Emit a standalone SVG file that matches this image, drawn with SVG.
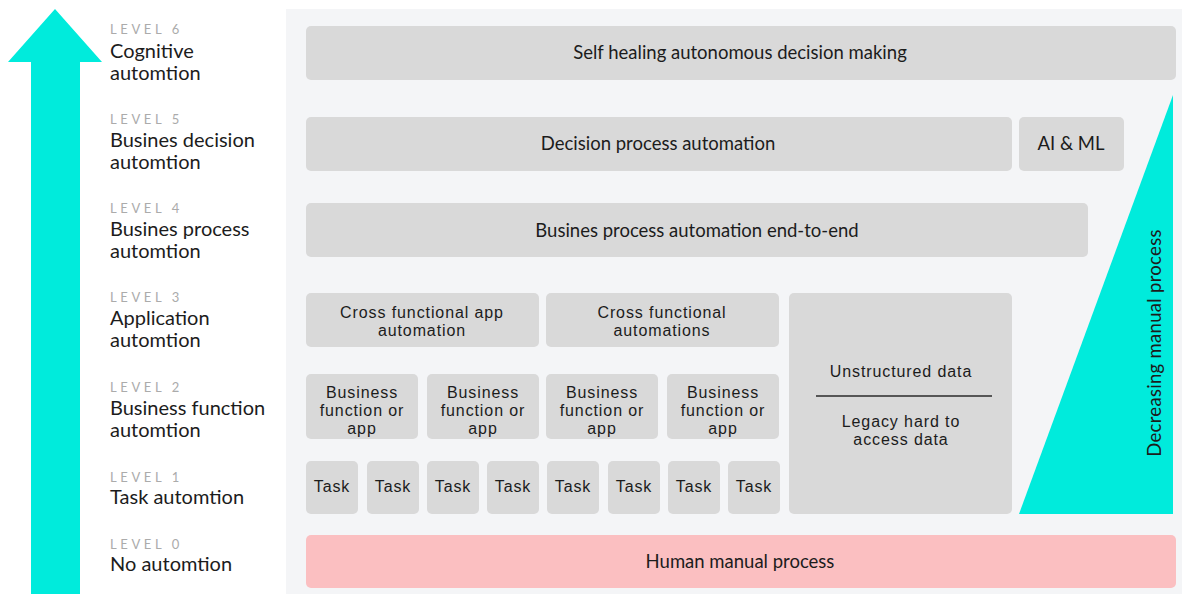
<svg xmlns="http://www.w3.org/2000/svg" width="1182" height="594" viewBox="0 0 1182 594">
  <style>
    .panel { fill: #f4f5f7; }
    .box { fill: #d9d9d9; }
    .pink { fill: #fbbfc1; }
    .teal { fill: #00ebdc; }
    text { font-family: "Lato", "Liberation Sans", sans-serif; fill: #1c1c1c; }
    .lbl { font-family: "Liberation Sans", "Lato", sans-serif; font-size: 16px; text-anchor: middle; letter-spacing: 0.9px; }
    .big { font-size: 18.5px; text-anchor: middle; }
    .lvl { font-size: 13px; fill: #ababab; letter-spacing: 3.6px; }
    .name { font-size: 20px; }
  </style>

  <rect width="1182" height="594" fill="#ffffff"/>

  <!-- Upward level arrow -->
  <g id="level-arrow">
    <polygon class="teal" points="55,9 102,62 80,62 80,594 31,594 31,62 8,62"/>
  </g>

  <!-- Level captions -->
  <g id="level-6"><text class="lvl" x="110" y="34">LEVEL 6</text><text class="name" x="110" y="58">Cognitive</text><text class="name" x="110" y="80">automtion</text></g>
  <g id="level-5"><text class="lvl" x="110" y="124">LEVEL 5</text><text class="name" x="110" y="147">Busines decision</text><text class="name" x="110" y="169">automtion</text></g>
  <g id="level-4"><text class="lvl" x="110" y="213">LEVEL 4</text><text class="name" x="110" y="236">Busines process</text><text class="name" x="110" y="258">automtion</text></g>
  <g id="level-3"><text class="lvl" x="110" y="302">LEVEL 3</text><text class="name" x="110" y="325">Application</text><text class="name" x="110" y="347">automtion</text></g>
  <g id="level-2"><text class="lvl" x="110" y="392">LEVEL 2</text><text class="name" x="110" y="415">Business function</text><text class="name" x="110" y="437">automtion</text></g>
  <g id="level-1"><text class="lvl" x="110" y="482">LEVEL 1</text><text class="name" x="110" y="504">Task automtion</text></g>
  <g id="level-0"><text class="lvl" x="110" y="549">LEVEL 0</text><text class="name" x="110" y="571">No automtion</text></g>

  <!-- Background panel -->
  <rect class="panel" x="286" y="9" width="896" height="585"/>

  <g id="self-healing"><rect class="box" x="306" y="26" width="870" height="54" rx="5"/><text class="big" x="740" y="59">Self healing autonomous decision making</text></g>
  <g id="decision-process"><rect class="box" x="306" y="117" width="706" height="54" rx="5"/><text class="big" x="658" y="150">Decision process automation</text></g>
  <g id="ai-ml"><rect class="box" x="1019" y="117" width="105" height="54" rx="5"/><text class="big" x="1071" y="150">AI &amp; ML</text></g>
  <g id="business-process"><rect class="box" x="306" y="203" width="782" height="54" rx="5"/><text class="big" x="697" y="237">Busines process automation end-to-end</text></g>

  <g id="cross-app"><rect class="box" x="306" y="293" width="233" height="54" rx="5"/><text class="lbl" x="422" y="318">Cross functional app</text><text class="lbl" x="422" y="336">automation</text></g>
  <g id="cross-func"><rect class="box" x="546" y="293" width="233" height="54" rx="5"/><text class="lbl" x="662" y="318">Cross functional</text><text class="lbl" x="662" y="336">automations</text></g>

  <g id="bf-1"><rect class="box" x="306" y="374" width="112" height="65" rx="5"/><text class="lbl" x="362" y="398">Business</text><text class="lbl" x="362" y="416">function or</text><text class="lbl" x="362" y="434">app</text></g>
  <g id="bf-2"><rect class="box" x="427" y="374" width="112" height="65" rx="5"/><text class="lbl" x="483" y="398">Business</text><text class="lbl" x="483" y="416">function or</text><text class="lbl" x="483" y="434">app</text></g>
  <g id="bf-3"><rect class="box" x="546" y="374" width="112" height="65" rx="5"/><text class="lbl" x="602" y="398">Business</text><text class="lbl" x="602" y="416">function or</text><text class="lbl" x="602" y="434">app</text></g>
  <g id="bf-4"><rect class="box" x="667" y="374" width="112" height="65" rx="5"/><text class="lbl" x="723" y="398">Business</text><text class="lbl" x="723" y="416">function or</text><text class="lbl" x="723" y="434">app</text></g>

  <g id="task-1"><rect class="box" x="306" y="461" width="52" height="53" rx="5"/><text class="lbl" x="332" y="492">Task</text></g>
  <g id="task-2"><rect class="box" x="367" y="461" width="52" height="53" rx="5"/><text class="lbl" x="393" y="492">Task</text></g>
  <g id="task-3"><rect class="box" x="427" y="461" width="52" height="53" rx="5"/><text class="lbl" x="453" y="492">Task</text></g>
  <g id="task-4"><rect class="box" x="487" y="461" width="52" height="53" rx="5"/><text class="lbl" x="513" y="492">Task</text></g>
  <g id="task-5"><rect class="box" x="547" y="461" width="52" height="53" rx="5"/><text class="lbl" x="573" y="492">Task</text></g>
  <g id="task-6"><rect class="box" x="608" y="461" width="52" height="53" rx="5"/><text class="lbl" x="634" y="492">Task</text></g>
  <g id="task-7"><rect class="box" x="668" y="461" width="52" height="53" rx="5"/><text class="lbl" x="694" y="492">Task</text></g>
  <g id="task-8"><rect class="box" x="728" y="461" width="52" height="53" rx="5"/><text class="lbl" x="754" y="492">Task</text></g>

  <g id="data-block">
    <rect class="box" x="789" y="293" width="223" height="221" rx="5"/>
    <text class="lbl" x="901" y="377">Unstructured data</text>
    <line x1="816" y1="396" x2="992" y2="396" stroke="#2a2a2a" stroke-width="1.5"/>
    <text class="lbl" x="901" y="427">Legacy hard to</text>
    <text class="lbl" x="901" y="445">access data</text>
  </g>

  <g id="decreasing-manual">
    <polygon class="teal" points="1019,514 1173,514 1173,95"/>
    <text class="big" transform="translate(1161,343) rotate(-90)" style="letter-spacing:0.3px">Decreasing manual process</text>
  </g>

  <g id="human-manual"><rect class="pink" x="306" y="535" width="870" height="53" rx="5"/><text class="big" x="740" y="568">Human manual process</text></g>

  <g id="connectors"></g>
</svg>
